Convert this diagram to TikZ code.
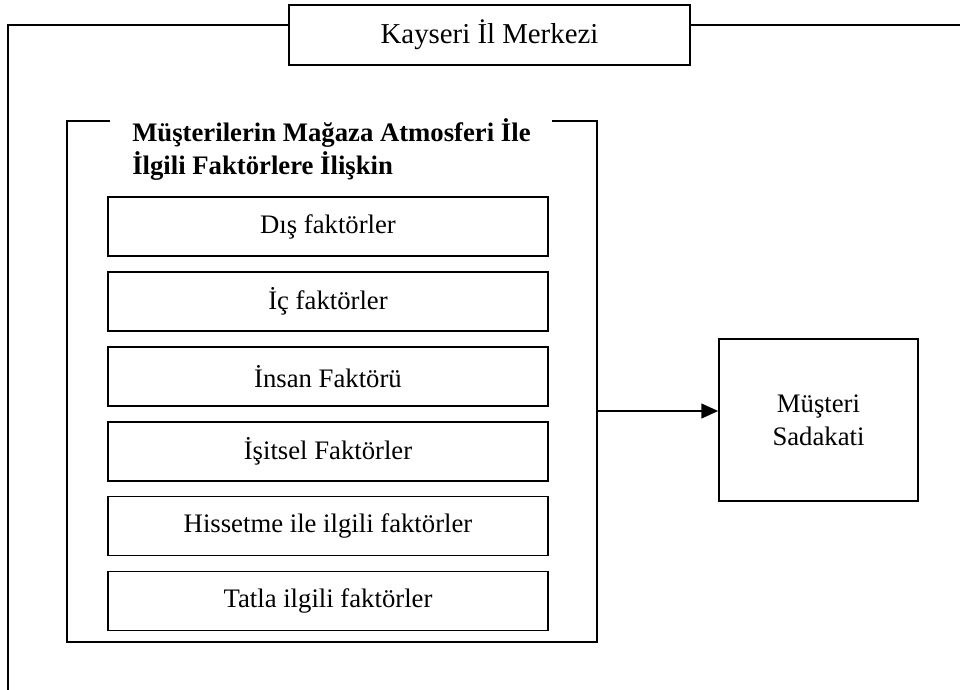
\documentclass[tikz,border=0pt]{standalone}
\usepackage{fontspec}
\setmainfont{Liberation Serif}
\usepackage{tikz}
\usetikzlibrary{positioning,arrows.meta}
\tikzset{
  frame/.style={draw=black, line width=1.2pt},
  fbox/.style={draw=black, line width=1.2pt, minimum width=11cm, minimum height=1.475cm,
    inner sep=0pt, align=center, font=\fontsize{19}{23.5}\selectfont},
  head/.style={draw=black, fill=white, line width=1.2pt, minimum width=10.025cm,
    minimum height=1.5cm, inner sep=0pt, font=\fontsize{20.5}{24}\selectfont},
  title/.style={anchor=base west, inner sep=0pt, align=left,
    font=\fontsize{19}{22.8}\selectfont\bfseries},
  result/.style={draw=black, line width=1.2pt, minimum width=4.975cm, minimum height=4.05cm,
    inner sep=0pt, align=center, font=\fontsize{19}{23.5}\selectfont},
  flow/.style={-{Triangle[length=4.2mm, width=3.7mm]}, line width=1.2pt},
}
\begin{document}
\begin{tikzpicture}
  \useasboundingbox (0,0) rectangle (24,-17.225);
  % outer frame
  \node[head] (kayseri) at (12.2375,-0.875) {Kayseri İl Merkezi};
  \coordinate (otl) at (0.2,-0.625);
  \draw[frame] (kayseri.west |- otl) -- (otl) -- (0.2,-17.5);
  \draw[frame] (kayseri.east |- otl) -- (24.2,-0.625);
  % inner frame
  \draw[frame] (2.75,-3.025) -| (1.675,-16.05) -| (14.925,-3.025) -- (13.8,-3.025);
  \node[title] (baslik) at (3.3,-4.35) {Müşterilerin Mağaza Atmosferi İle\\İlgili Faktörlere İlişkin};
  % factors
  \node[fbox] (dis) at (8.2,-5.6625) {Dış faktörler};
  \node[fbox, below=0.355cm of dis] (ic) {İç faktörler};
  \node[fbox, below=0.355cm of ic] (insan) {İnsan Faktörü};
  \node[fbox, below=0.355cm of insan] (isitsel) {İşitsel Faktörler};
  \node[fbox, below=0.355cm of isitsel] (his) {Hissetme ile ilgili faktörler};
  \node[fbox, below=0.355cm of his] (tat) {Tatla ilgili faktörler};
  % result
  \node[result] (sadakat) at (20.4625,-10.5) {Müşteri\\Sadakati};
  \coordinate (fr) at (14.925,-10.275);
  \draw[flow] (fr) -- (fr -| sadakat.west);
\end{tikzpicture}
\end{document}
